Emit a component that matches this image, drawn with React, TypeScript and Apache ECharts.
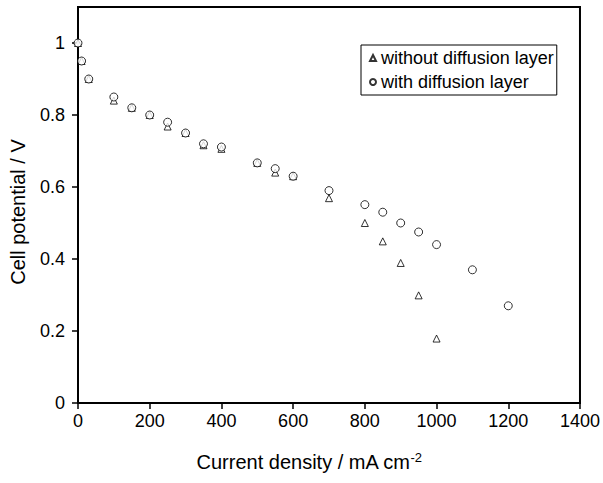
import React, { useEffect, useRef } from "react";
import * as echarts from "echarts";

const currentWithout = [0, 10, 30, 100, 150, 200, 250, 300, 350, 400, 500, 550, 600, 700, 800, 850, 900, 950, 1000];
const potentialWithout = [1.0, 0.95, 0.9, 0.84, 0.82, 0.8, 0.768, 0.75, 0.716, 0.706, 0.667, 0.64, 0.63, 0.569, 0.5, 0.449, 0.389, 0.299, 0.179];
const currentWith = [0, 10, 30, 100, 150, 200, 250, 300, 350, 400, 500, 550, 600, 700, 800, 850, 900, 950, 1000, 1100, 1200];
const potentialWith = [1.0, 0.95, 0.9, 0.85, 0.82, 0.8, 0.78, 0.75, 0.72, 0.711, 0.667, 0.651, 0.63, 0.59, 0.551, 0.53, 0.5, 0.475, 0.44, 0.37, 0.27];
const yTicks = [0, 0.2, 0.4, 0.6, 0.8, 1];
const seriesNames = ["without diffusion layer", "with diffusion layer"];

const FONT = "Arial";

export default function App() {
  const ref = useRef<HTMLDivElement>(null);
  useEffect(() => {
    if (!ref.current) return;
    const chart = echarts.init(ref.current, undefined, { renderer: "svg" });
    const pairs = (xs: number[], ys: number[]) => xs.map((x, i) => [x, ys[i]]);
    chart.setOption({
      animation: false,
      backgroundColor: "#fff",
      textStyle: { fontFamily: FONT, color: "#000" },
      grid: {
        left: 78,
        right: 18,
        top: 7,
        bottom: 80,
        show: true,
        borderColor: "#000",
        borderWidth: 2,
        containLabel: false,
      },
      legend: {
        orient: "vertical",
        left: 361,
        top: 45,
        data: [
          { name: seriesNames[0], icon: "triangle" },
          { name: seriesNames[1], icon: "circle" },
        ],
        itemWidth: 6,
        itemHeight: 6,
        itemGap: 6,
        padding: [4, 3, 4, 8],
        borderColor: "#000",
        borderWidth: 1,
        borderRadius: 0,
        backgroundColor: "#fff",
        textStyle: { fontSize: 18, color: "#000", fontFamily: FONT },
        selectedMode: false,
      },
      xAxis: {
        type: "value",
        min: 0,
        max: 1400,
        interval: 200,
        name: "Current density / mA cm{sup|-2}",
        nameLocation: "middle",
        nameGap: 48,
        nameTextStyle: {
          fontSize: 20,
          color: "#000",
          fontFamily: FONT,
          verticalAlign: "top",
          padding: [0, 40, 0, 0],
          rich: { sup: { fontSize: 13, verticalAlign: "top", padding: [0, 0, 9, 0], fontFamily: FONT, color: "#000" } },
        },
        axisLine: { show: true, lineStyle: { color: "#000", width: 2 } },
        axisTick: { show: true, inside: false, length: 6, lineStyle: { color: "#000", width: 1.5 } },
        axisLabel: { fontSize: 18, color: "#000", margin: 9, fontFamily: FONT, formatter: (v: number) => String(v) },
        splitLine: { show: false },
      },
      yAxis: {
        type: "value",
        min: 0,
        max: 1.1,
        interval: 0.2,
        name: "Cell potential / V",
        nameLocation: "middle",
        nameGap: 50,
        nameTextStyle: { fontSize: 20, color: "#000", fontFamily: FONT, padding: [0, 14, 0, 0] },
        axisLine: { show: true, lineStyle: { color: "#000", width: 2 } },
        axisTick: { show: true, inside: false, length: 6, customValues: yTicks, lineStyle: { color: "#000", width: 1.5 } },
        axisLabel: { fontSize: 18, color: "#000", margin: 13, customValues: yTicks, fontFamily: FONT, formatter: (v: number) => String(v) },
        splitLine: { show: false },
      },
      series: [
        {
          name: seriesNames[0],
          type: "scatter",
          symbol: "triangle",
          symbolSize: 7,
          data: pairs(currentWithout, potentialWithout),
          itemStyle: { color: "#fff", borderColor: "#000", borderWidth: 1 },
        },
        {
          name: seriesNames[1],
          type: "scatter",
          symbol: "circle",
          symbolSize: 8,
          data: pairs(currentWith, potentialWith),
          itemStyle: { color: "#fff", borderColor: "#000", borderWidth: 1 },
        },
      ],
    });
    return () => chart.dispose();
  }, []);
  return <div ref={ref} style={{ width: 603, height: 483, position: "absolute", left: 0, top: 0 }} />;
}
